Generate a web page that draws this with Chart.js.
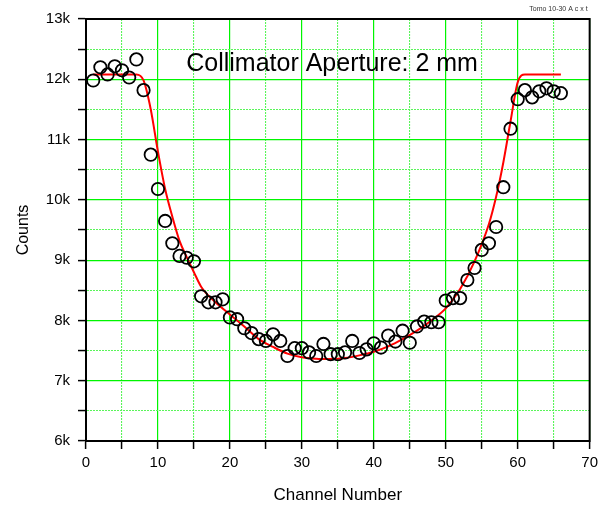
<!DOCTYPE html>
<html>
<head>
<meta charset="utf-8">
<script src="https://cdn.jsdelivr.net/npm/chart.js@4/dist/chart.umd.min.js"></script>
<style>
  html, body { margin: 0; padding: 0; background: #fff; }
  #wrap { width: 603px; height: 506px; position: relative; }
</style>
</head>
<body>
<div id="wrap"><canvas id="chart"></canvas></div>
<script>
// measured counts per channel (open circles)
const channels = [];
for (let i = 1; i <= 66; i++) channels.push(i);
const counts = [
  11980, 12200, 12080, 12215, 12150, 12030, 12330, 11820, 10750, 10180,
  9650, 9280, 9070, 9040, 8980, 8400, 8300, 8300, 8350, 8050,
  8020, 7870, 7790, 7690, 7660, 7770, 7660, 7410, 7540, 7540,
  7470, 7410, 7610, 7440, 7440, 7470, 7660, 7460, 7520, 7620,
  7550, 7750, 7650, 7830, 7630, 7900, 7980, 7970, 7970, 8330,
  8370, 8370, 8670, 8870, 9170, 9280, 9550, 10210, 11180, 11670,
  11820, 11700, 11800, 11850, 11800, 11770
];

// fitted curve (red line)
const fitX = [1, 7, 8, 9, 10, 11, 12, 13, 14, 15, 16, 18, 20, 22, 24, 26, 28, 30, 32, 34,
  36, 38, 40, 42, 44, 46, 48, 50, 52, 54, 56, 57, 58, 59, 60, 61, 66];
const fitY = [12080, 12080, 11980, 11500, 10800, 10180, 9720, 9320, 9050, 8800, 8560, 8300, 8100, 7900, 7690, 7560, 7450, 7390, 7365, 7360,
  7375, 7420, 7480, 7570, 7690, 7830, 8000, 8200, 8520, 8980, 9600, 10050, 10620, 11300, 11950, 12080, 12080];

// major ticks every 10 channels / 1000 counts, minor halfway between
const xMin = 0, xMax = 70, xMinorStep = 5;
const yMin = 6000, yMax = 13000, yMinorStep = 500;

const titleText = "Collimator Aperture: 2 mm";
const cornerText = "Tomo 10-30 A c x t";

const majorGreen = "rgb(0,245,0)";
const minorGreen = "rgb(90,245,90)";
const fontFam = "'Liberation Sans', Arial, sans-serif";

// ticks start on a major value, so even index = major
const isMajor = (c) => c.index % 2 === 0;

const extraText = {
    id: "extraText",
    afterDraw(chart) {
        const ctx = chart.ctx;
        const a = chart.chartArea;
        const xs = chart.scales.x, ys = chart.scales.y;
        ctx.save();
        // frame round the plot
        ctx.strokeStyle = "#000";
        ctx.lineWidth = 2;
        ctx.strokeRect(a.left, a.top, a.right - a.left, a.bottom - a.top);

        ctx.fillStyle = "#000";
        ctx.font = "25px " + fontFam;
        ctx.textAlign = "center";
        ctx.textBaseline = "middle";
        ctx.fillText(titleText, xs.getPixelForValue(34.2), ys.getPixelForValue(12250));

        ctx.fillStyle = "#333";
        ctx.font = "7px " + fontFam;
        ctx.textAlign = "right";
        ctx.fillText(cornerText, a.right - 2, a.top - 10);
        ctx.restore();
    }
};

new Chart(document.getElementById("chart"), {
    type: "scatter",
    data: {
        datasets: [
            {
                label: "Counts",
                data: channels.map((c, i) => ({ x: c, y: counts[i] })),
                pointStyle: "circle",
                pointRadius: 6.2,
                pointBorderWidth: 1.8,
                pointBorderColor: "#000",
                pointBackgroundColor: "rgba(255,255,255,0)",
                showLine: false,
                order: 1,
            },
            {
                label: "Fit",
                data: fitX.map((x, i) => ({ x, y: fitY[i] })),
                showLine: true,
                borderColor: "#ff0000",
                borderWidth: 2,
                pointRadius: 0,
                fill: false,
                cubicInterpolationMode: "monotone",
                order: 2,
            },
        ],
    },
    options: {
        responsive: true,
        maintainAspectRatio: false,
        animation: false,
        layout: { padding: { top: 19, right: 5, left: 0, bottom: 0 } },
        plugins: {
            legend: { display: false },
            tooltip: { enabled: false },
        },
        scales: {
            x: {
                type: "linear",
                min: xMin,
                max: xMax,
                afterBuildTicks: (s) => {
                    const t = [];
                    for (let v = xMin; v <= xMax; v += xMinorStep) t.push({ value: v });
                    s.ticks = t;
                },
                afterFit: (s) => { s.height = 65; },
                grid: {
                    color: (c) => isMajor(c) ? majorGreen : minorGreen,
                    lineWidth: (c) => isMajor(c) ? 1.2 : 1.1,
                    tickColor: "#000",
                    tickLength: 8,
                    tickWidth: 1.5,
                },
                border: {
                    color: "#000",
                    width: 2,
                    dash: (c) => isMajor(c) ? [] : [2, 1],
                },
                ticks: {
                    color: "#000",
                    font: { family: fontFam, size: 15 },
                    padding: 5,
                    maxRotation: 0,
                    callback: (v, i) => i % 2 === 0 ? String(v) : "",
                },
                title: {
                    display: true,
                    text: "Channel Number",
                    color: "#000",
                    font: { family: fontFam, size: 17 },
                    padding: { top: 10, bottom: 0 },
                },
            },
            y: {
                type: "linear",
                min: yMin,
                max: yMax,
                afterBuildTicks: (s) => {
                    const t = [];
                    for (let v = yMin; v <= yMax; v += yMinorStep) t.push({ value: v });
                    s.ticks = t;
                },
                afterFit: (s) => { s.width = 86; },
                grid: {
                    color: (c) => isMajor(c) ? majorGreen : minorGreen,
                    lineWidth: (c) => isMajor(c) ? 1.2 : 1.1,
                    tickColor: "#000",
                    tickLength: 8,
                    tickWidth: 1.5,
                },
                border: {
                    color: "#000",
                    width: 2,
                    dash: (c) => isMajor(c) ? [] : [2, 1],
                },
                ticks: {
                    color: "#000",
                    font: { family: fontFam, size: 15 },
                    padding: 8,
                    callback: (v, i) => i % 2 === 0 ? (v / 1000) + "k" : "",
                },
                title: {
                    display: true,
                    text: "Counts",
                    color: "#000",
                    font: { family: fontFam, size: 16 },
                    padding: { top: 14, bottom: 0 },
                },
            },
        },
    },
    plugins: [extraText],
});
</script>
</body>
</html>
